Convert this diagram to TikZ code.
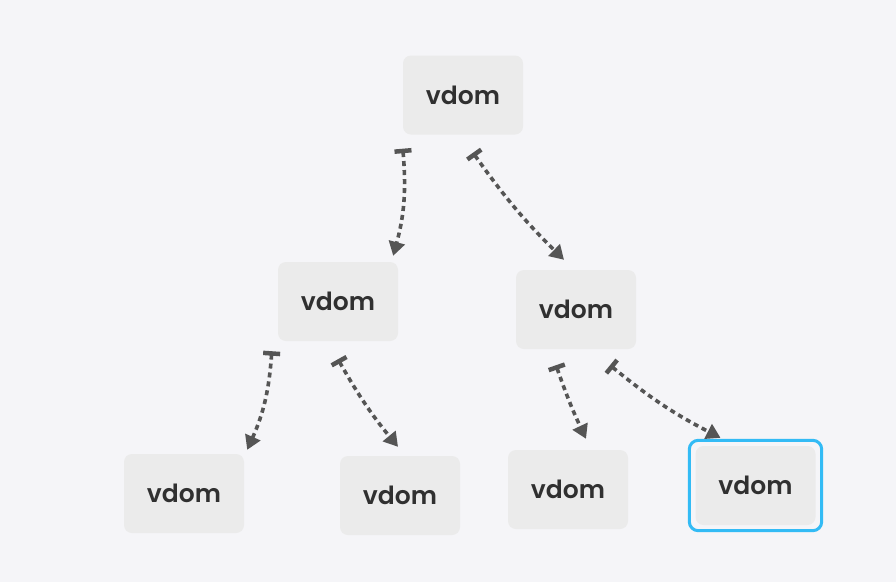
\documentclass[tikz,border=0pt]{standalone}
\usepackage{fontspec}
\newfontfamily\vfont{Poppins SemiBold}
\usetikzlibrary{arrows.meta}
\definecolor{bgcol}{HTML}{F5F5F8}
\definecolor{boxcol}{HTML}{EBEBEB}
\definecolor{txtcol}{HTML}{303030}
\definecolor{linecol}{HTML}{555555}
\definecolor{hlcol}{HTML}{33BBF5}
\tikzset{
    vnode/.style={fill=boxcol, rounded corners=8pt, minimum width=120pt,
        minimum height=79pt, text=txtcol, font=\vfont\fontsize{25}{28}\selectfont},
    link/.style={draw=linecol, line width=3.6pt, dash pattern=on 5pt off 4pt,
        {Bar[width=17pt,line width=4.5pt]}-{Triangle[length=14pt,width=16pt]}}
}
\begin{document}
\begin{tikzpicture}[x=1pt,y=-1pt]
        \fill[bgcol] (0,0) rectangle (896,582);
        \useasboundingbox (0,0) rectangle (896,582);
        % Draw the vdom tree
        \node[vnode] (root) at (463,95) {vdom};
        \node[vnode] (left) at (338,301.5) {vdom};
        \node[vnode] (right) at (576,309.5) {vdom};
        \node[vnode] (b1) at (184,493.5) {vdom};
        \node[vnode] (b2) at (400,495.5) {vdom};
        \node[vnode] (b3) at (568,489.5) {vdom};
        \node[vnode] (b4) at (755.5,485.5) {vdom};
        % Highlight the last one
        \draw[hlcol, line width=3pt, rounded corners=9pt]
            ([shift={(-6,-5.5)}]b4.north west) rectangle ([shift={(6,5.5)}]b4.south east);
        % Connect the nodes
        \draw[link] ([shift={(0,14)}]root.south west) to[bend left=10] ([shift={(-5,-6)}]left.north east);
        \draw[link] ([shift={(10,18)}]root.south) to[bend right=5] ([shift={(-12,-10)}]right.north);
        \draw[link] ([shift={(-6,10)}]left.south west) to[bend left=10] ([shift={(3,-4)}]b1.north east);
        \draw[link] ([shift={(0,18)}]left.south) to[bend right=5] ([shift={(-2,-9)}]b2.north);
        \draw[link] ([shift={(-20,16)}]right.south) to[bend right=3] ([shift={(18,-11)}]b3.north);
        \draw[link] ([shift={(34,16)}]right.south) to[bend right=6] ([shift={(-35,-8)}]b4.north);
\end{tikzpicture}
\end{document}
